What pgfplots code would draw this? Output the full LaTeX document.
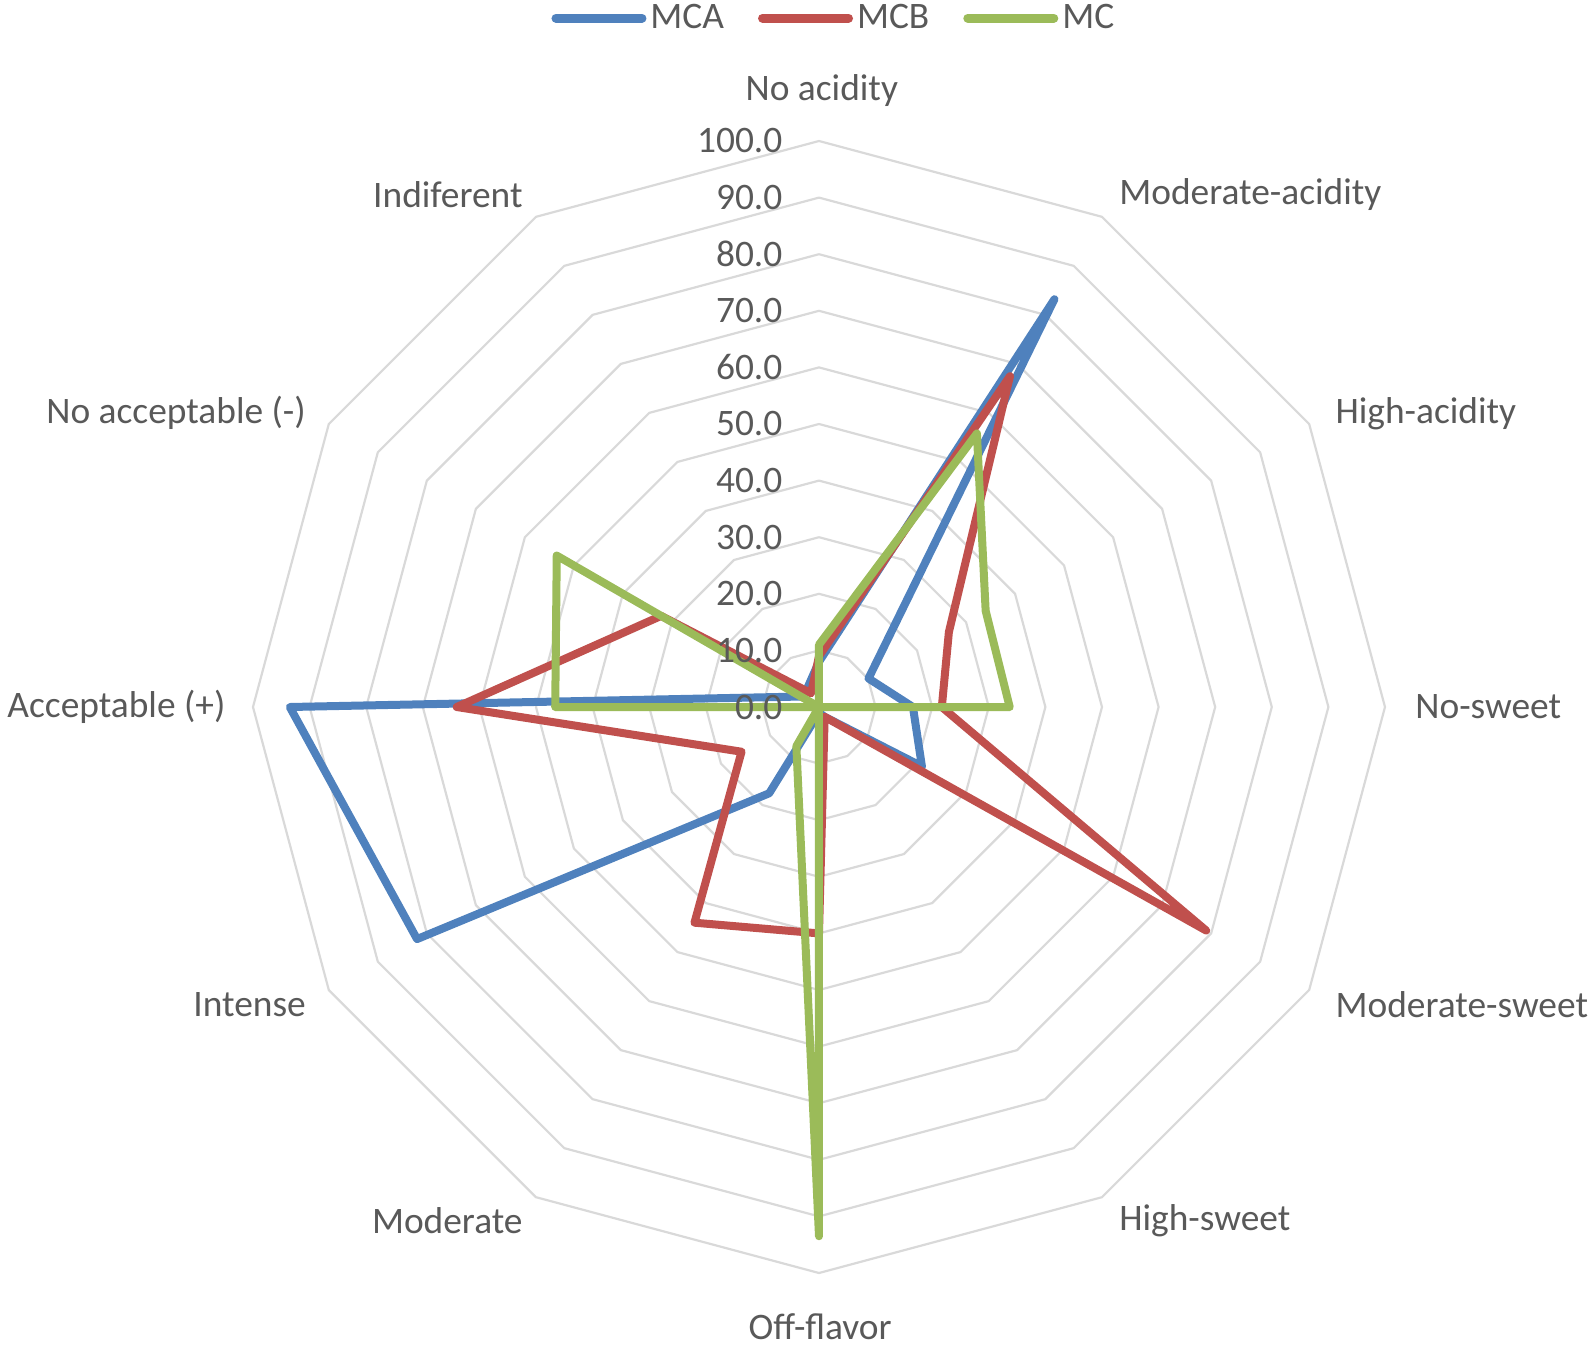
\documentclass[border=0pt]{standalone}
\usepackage{pgfplots}
\usepackage{pgfplotstable}
\pgfplotsset{compat=1.18}
\usepackage{fontspec}
\setmainfont{Carlito}
\definecolor{mcablue}{HTML}{4F81BD}
\definecolor{mcbred}{HTML}{C0504D}
\definecolor{mcgreen}{HTML}{9BBB59}
\definecolor{gridc}{HTML}{D9D9D9}
\definecolor{txt}{HTML}{595959}
\newcommand{\lbl}{\fontsize{18.7pt}{22pt}\selectfont}
\pgfplotstableread{
angle MCA MCB MC
90 8 9 11
60 83.2 67.5 55.8
30 10.1 26.5 34
0 16.6 21.7 33.7
-30 21 79 0
-60 2 2 0
-90 1 40 93.5
-120 17.6 44 8
-150 82 15.8 0
-180 93.5 64 46.6
-210 3.7 32.2 53.5
-240 4 2.8 0
-270 8 9 11
}\radardata
\tikzset{vl/.style={anchor=east, font=\lbl, text=txt, inner sep=0pt},
  cl/.style={font=\lbl, text=txt, inner sep=0pt}}
\begin{document}
\begin{tikzpicture}
\begin{axis}[
  at={(0,0)}, anchor=origin,
  x=2.83pt, y=2.83pt,
  xmin=-100, xmax=100, ymin=-100, ymax=100,
  hide axis, clip=false,
  legend columns=-1,
  legend image code/.code={\draw[#1] (0pt,0pt) -- (43pt,0pt);},
  legend style={at={(0.514,1.1085)}, anchor=center, draw=none, fill=none,
    font=\lbl, text=txt, inner sep=0pt,
    /tikz/every even column/.append style={column sep=15pt}},
]
\pgfplotsinvokeforeach{10,20,30,40,50,60,70,80,90,100}{
  \addplot[gridc, line width=1.1pt, forget plot, data cs=polar] coordinates {(90,#1) (60,#1) (30,#1) (0,#1) (-30,#1) (-60,#1) (-90,#1) (-120,#1) (-150,#1) (-180,#1) (-210,#1) (-240,#1) (-270,#1)};
}
\addplot[mcablue, line width=4pt, line join=round, line cap=round, forget plot, data cs=polar] table[x=angle, y=MCA] {\radardata};
\addplot[mcbred, line width=4pt, line join=round, line cap=round, forget plot, data cs=polar] table[x=angle, y=MCB] {\radardata};
\addplot[mcgreen, line width=4pt, line join=round, line cap=round, forget plot, data cs=polar] table[x=angle, y=MC] {\radardata};
\addlegendimage{mcablue, line width=4.5pt, line cap=round}
\addlegendentry{MCA}
\addlegendimage{mcbred, line width=4.5pt, line cap=round}
\addlegendentry{MCB}
\addlegendimage{mcgreen, line width=4.5pt, line cap=round}
\addlegendentry{MC}
% value labels
\node[vl] at (axis cs:-6.4,0) {0.0};
\node[vl] at (axis cs:-6.4,10) {10.0};
\node[vl] at (axis cs:-6.4,20) {20.0};
\node[vl] at (axis cs:-6.4,30) {30.0};
\node[vl] at (axis cs:-6.4,40) {40.0};
\node[vl] at (axis cs:-6.4,50) {50.0};
\node[vl] at (axis cs:-6.4,60) {60.0};
\node[vl] at (axis cs:-6.4,70) {70.0};
\node[vl] at (axis cs:-6.4,80) {80.0};
\node[vl] at (axis cs:-6.4,90) {90.0};
\node[vl] at (axis cs:-6.4,100) {100.0};
% category labels
\node[cl, anchor=center] at (axis cs:0.5,109) {No acidity};
\node[cl, anchor=west] at (axis cs:53,90.6) {Moderate-acidity};
\node[cl, anchor=west] at (axis cs:91.2,51.9) {High-acidity};
\node[cl, anchor=west] at (axis cs:105.3,0) {No-sweet};
\node[cl, anchor=west] at (axis cs:91.2,-52.5) {Moderate-sweet};
\node[cl, anchor=west] at (axis cs:53,-90.8) {High-sweet};
\node[cl, anchor=center] at (axis cs:0.2,-109.5) {Off-flavor};
\node[cl, anchor=east] at (axis cs:-52.3,-90.8) {Moderate};
\node[cl, anchor=east] at (axis cs:-90.6,-52.5) {Intense};
\node[cl, anchor=east] at (axis cs:-104.8,0) {Acceptable (+)};
\node[cl, anchor=east] at (axis cs:-90.6,51.9) {No acceptable (-)};
\node[cl, anchor=east] at (axis cs:-52.3,90.6) {Indiferent};
\end{axis}
\pgfresetboundingbox
\useasboundingbox (-409.5pt,-319.5pt) rectangle (388pt,353.5pt);
\end{tikzpicture}
\end{document}
